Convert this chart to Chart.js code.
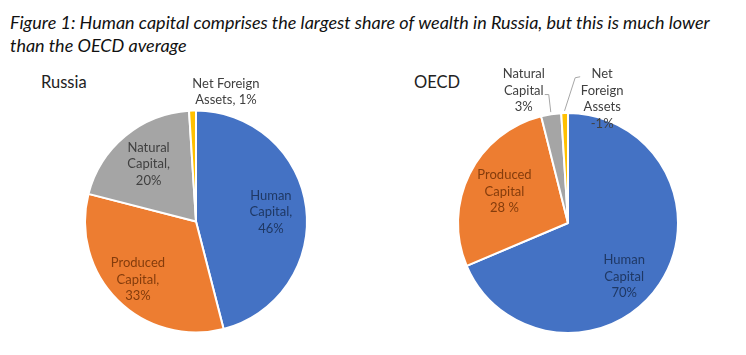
<!DOCTYPE html>
<html>
<head>
<meta charset="utf-8">
<script src="https://cdn.jsdelivr.net/npm/chart.js@4/dist/chart.umd.min.js"></script>
<style>
  html, body { margin: 0; padding: 0; background: #fff; }
  body { width: 746px; height: 355px; position: relative; overflow: hidden; font-family: Lato, "Open Sans", sans-serif; }
  #title { position: absolute; left: 10px; top: 11px; width: 736px; font-style: italic; font-size: 18px; line-height: 23px; color: #111; white-space: nowrap; }
  .sub { position: absolute; font-size: 16.5px; color: #222; }
  .box { position: absolute; top: 0; width: 373px; height: 355px; }
</style>
</head>
<body>
<div id="title">Figure 1: Human capital comprises the largest share of wealth in Russia, but this is much lower<br>than the OECD average</div>
<div class="sub" style="left:41px; top:72px;">Russia</div>
<div class="sub" style="left:414px; top:72px;">OECD</div>
<div class="box" style="left:0"><canvas id="russia"></canvas></div>
<div class="box" style="left:373px"><canvas id="oecd"></canvas></div>
<script>
// ---- data ----
const CATEGORIES = ["Human Capital", "Produced Capital", "Natural Capital", "Net Foreign Assets"];
const RUSSIA_VALUES = [46, 33, 20, 1];
const OECD_VALUES = [70, 28, 3, 1];
const RUSSIA_LABELS = [["Human", "Capital,", "46%"], ["Produced", "Capital,", "33%"], ["Natural", "Capital,", "20%"], ["Net Foreign", "Assets, 1%"]];
const OECD_LABELS = [["Human", "Capital", "70%"], ["Produced", "Capital", "28 %"], ["Natural", "Capital", "3%"], ["Net", "Foreign", "Assets", "-1%"]];

// ---- styles ----
const COLORS = ["#4472C4", "#ED7D31", "#A5A5A5", "#FFC000"];
const LABEL_COLORS = ["#1F3864", "#843C0C", "#404040", "#404040"];

// label placement: fraction of radius along slice mid-angle, plus pixel nudge
const RUSSIA_PLACE = [
  {fr: 0.68, dx: 0, dy: 0},
  {fr: 0.74, dx: 0, dy: 0},
  {fr: 0.67, dx: 0, dy: 0},
  {fr: 1.17, dx: 34, dy: 0}
];
const OECD_PLACE = [
  {fr: 0.70, dx: -8, dy: 11},
  {fr: 0.645, dx: 0, dy: 0},
  {fr: 1.2, dx: -24, dy: -2, leader: [[21, 4], [25, 4]]},
  {fr: 1.13, dx: 38, dy: 0, leader: [[-22, -22], [-27, -21]]}
];

const labelPlugin = {
  id: 'sliceLabels',
  afterDatasetsDraw(chart, args, opts) {
    const ctx = chart.ctx;
    const meta = chart.getDatasetMeta(0);
    const lh = 16.5;
    meta.data.forEach((arc, i) => {
      const p = arc.getProps(['x', 'y', 'startAngle', 'endAngle', 'outerRadius'], true);
      const mid = (p.startAngle + p.endAngle) / 2;
      const place = opts.place[i];
      const lx = p.x + Math.cos(mid) * p.outerRadius * place.fr + place.dx;
      const ly = p.y + Math.sin(mid) * p.outerRadius * place.fr + place.dy;
      if (place.leader) {
        ctx.save();
        ctx.strokeStyle = '#A6A6A6';
        ctx.lineWidth = 1;
        ctx.beginPath();
        ctx.moveTo(lx + place.leader[0][0], ly + place.leader[0][1]);
        ctx.lineTo(lx + place.leader[1][0], ly + place.leader[1][1]);
        ctx.lineTo(p.x + Math.cos(mid) * p.outerRadius * 1.02, p.y + Math.sin(mid) * p.outerRadius * 1.02);
        ctx.stroke();
        ctx.restore();
      }
      const lines = opts.labels[i];
      ctx.save();
      ctx.font = '13px Lato, "Open Sans", sans-serif';
      ctx.fillStyle = LABEL_COLORS[i];
      ctx.textAlign = 'center';
      ctx.textBaseline = 'middle';
      const top = ly - (lines.length - 1) * lh / 2;
      lines.forEach((t, k) => ctx.fillText(t, lx, top + k * lh));
      ctx.restore();
    });
  }
};

function makePie(id, values, labels, place, padding, radius) {
  return new Chart(document.getElementById(id), {
    type: 'pie',
    data: {
      labels: CATEGORIES,
      datasets: [{
        data: values,
        backgroundColor: COLORS,
        borderColor: '#ffffff',
        borderWidth: 2,
        hoverOffset: 0
      }]
    },
    options: {
      responsive: true,
      maintainAspectRatio: false,
      animation: false,
      radius: radius,
      layout: { padding: padding },
      events: [],
      plugins: {
        legend: { display: false },
        tooltip: { enabled: false },
        title: { display: false },
        sliceLabels: { labels: labels, place: place }
      }
    },
    plugins: [labelPlugin]
  });
}

makePie('russia', RUSSIA_VALUES, RUSSIA_LABELS, RUSSIA_PLACE, {left: 85, right: 66, top: 111, bottom: 23}, 111);
makePie('oecd', OECD_VALUES, OECD_LABELS, OECD_PLACE, {left: 84, right: 67, top: 112, bottom: 21}, 110);
</script>
</body>
</html>
